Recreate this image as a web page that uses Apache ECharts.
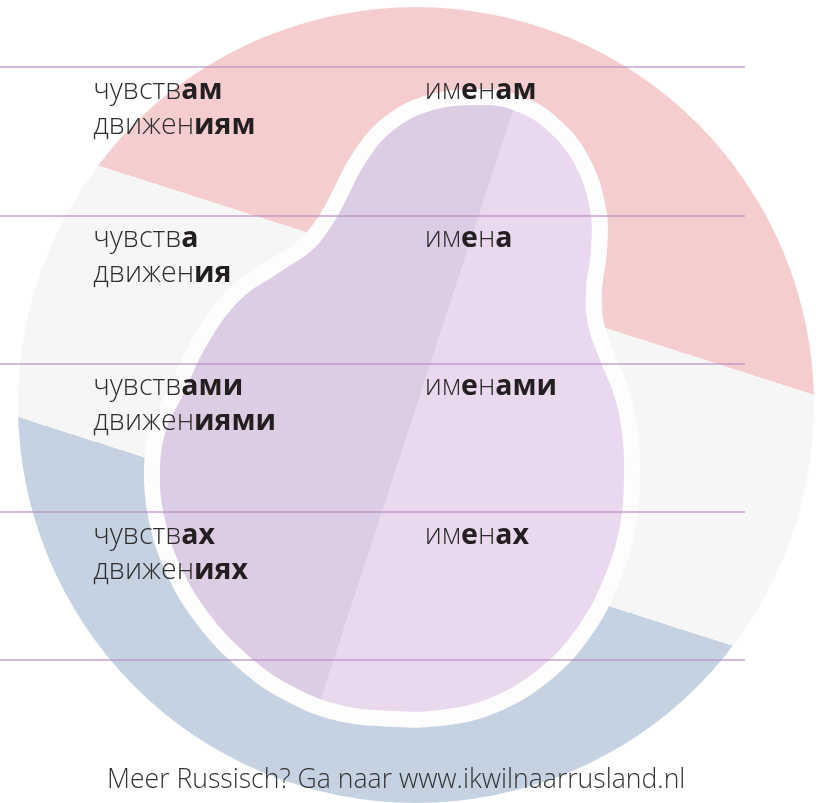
<!DOCTYPE html>
<html>
<head>
<meta charset="utf-8">
<script src="https://cdn.jsdelivr.net/npm/echarts@6/dist/echarts.min.js"></script>
<style>
html,body{margin:0;padding:0;background:#fff;}
#c{width:825px;height:803px;}
</style>
</head>
<body>
<div id="c"></div>
<script>
// ---- data ----
const cases = ['Datief', 'Nominatief', 'Instrumentalis', 'Prepositief'];
const columns = ['чувство / движение', 'имя'];
const stemA = 'чувств';
const endingsA = ['ам', 'а', 'ами', 'ах'];
const stemB = 'движен';
const endingsB = ['иям', 'ия', 'иями', 'иях'];
const stemC1 = 'им', stemC2 = 'е', stemC3 = 'н';
const endingsC = ['ам', 'а', 'ами', 'ах'];
const footer = 'Meer Russisch? Ga naar www.ikwilnaarrusland.nl';

// ---- styles ----
const FONT = '"Open Sans", "Noto Sans", sans-serif';
const rich = {
  l: { fontFamily: FONT, fontWeight: 300, fontSize: 28.5, lineHeight: 35, color: '#2e2e2e' },
  b: { fontFamily: FONT, fontWeight: 700, fontSize: 28.5, lineHeight: 35, color: '#231f20' }
};

const blob = [[480,105],[513,110],[547,130],[575,165],[590,210],[591,250],[586,290],[588,325],[600,360],[614,395],[622,433],[624,475],[620,525],[604,578],[577,628],[540,668],[490,698],[440,710],[395,711],[340,705],[290,685],[250,657],[210,615],[180,565],[164,515],[160,470],[166,430],[183,395],[207,345],[240,300],[280,272],[312,250],[332,225],[347,198],[363,167],[390,133],[430,111]];

const chart = echarts.init(document.getElementById('c'), null, { renderer: 'canvas' });

chart.setOption({
  animation: false,
  backgroundColor: '#ffffff',
  title: {
    text: footer,
    left: 102, top: 762,
    textStyle: { fontFamily: FONT, fontWeight: 300, fontSize: 26.6, color: '#333333' }
  },
  graphic: {
    elements: [
      {
        type: 'circle', z: -10, silent: true,
        shape: { cx: 416, cy: 405, r: 398 },
        style: {
          fill: {
            type: 'linear', global: true, x: 538, y: 24, x2: 294, y2: 786,
            colorStops: [
              { offset: 0, color: '#f6cdcf' }, { offset: 0.336, color: '#f6cdcf' },
              { offset: 0.336, color: '#f6f6f6' }, { offset: 0.666, color: '#f6f6f6' },
              { offset: 0.666, color: '#c4d2e1' }, { offset: 1, color: '#c4d2e1' }
            ]
          }
        }
      },
      {
        type: 'polygon', z: -9, silent: true,
        shape: { points: blob, smooth: 0.4 },
        style: { fill: '#fdfdfd', stroke: '#fdfdfd', lineWidth: 32, lineJoin: 'round' }
      },
      {
        type: 'polygon', z: -8, silent: true,
        shape: { points: blob, smooth: 0.4 },
        style: {
          fill: {
            type: 'linear', global: true, x: 418, y: 79, x2: 608, y2: 141,
            colorStops: [
              { offset: 0, color: '#dccde4' }, { offset: 0.5, color: '#dccde4' },
              { offset: 0.5, color: '#e9d8ee' }, { offset: 1, color: '#e9d8ee' }
            ]
          }
        }
      }
    ]
  },
  grid: { left: 0, right: 80, top: 67, bottom: 143, containLabel: false },
  xAxis: {
    type: 'category', data: columns,
    axisLine: { show: false }, axisTick: { show: false }, axisLabel: { show: false },
    splitLine: { show: false }
  },
  yAxis: {
    type: 'category', data: cases, inverse: true, z: 5,
    axisLine: { show: false }, axisTick: { show: false }, axisLabel: { show: false },
    splitLine: { show: true, lineStyle: { color: 'rgba(185,140,195,0.6)', width: 2 } }
  },
  series: [
    {
      type: 'scatter', z: 10, symbolSize: 0, silent: true,
      itemStyle: { opacity: 1 },
      data: cases.map((c, i) => [0, i]),
      label: {
        show: true, opacity: 1, position: [-93, -68], align: 'left', verticalAlign: 'top',
        formatter: p => '{l|' + stemA + '}{b|' + endingsA[p.dataIndex] + '}\n{l|' + stemB + '}{b|' + endingsB[p.dataIndex] + '}',
        rich: rich
      }
    },
    {
      type: 'scatter', z: 10, symbolSize: 0, silent: true,
      itemStyle: { opacity: 1 },
      data: cases.map((c, i) => [1, i]),
      label: {
        show: true, opacity: 1, position: [-134, -68], align: 'left', verticalAlign: 'top',
        formatter: p => '{l|' + stemC1 + '}{b|' + stemC2 + '}{l|' + stemC3 + '}{b|' + endingsC[p.dataIndex] + '}',
        rich: rich
      }
    }
  ]
});
</script>
</body>
</html>
